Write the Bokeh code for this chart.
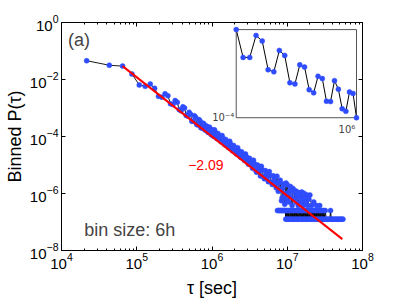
import numpy as np
from bokeh.plotting import figure
from bokeh.models import (Range1d, LogScale, LogAxis, FixedTicker, LogTickFormatter,
                          CustomJSTickFormatter, Label)
from bokeh.embed import file_html
from bokeh.resources import INLINE

# ---------------- data ----------------
# first bins (6 h bins), tau in hours
early_tau_h = [6, 12, 18, 24, 30, 36, 42, 48, 54, 60, 66, 72, 78, 84, 90, 96,
               102, 108, 114, 120, 126, 132, 138]
early_p = [4.57e-2, 3.16e-2, 2.95e-2, 1.55e-2, 6.46e-3, 5.75e-3, 6.92e-3, 4.90e-3,
           2.57e-3, 2.40e-3, 3.16e-3, 2.69e-3, 1.41e-3, 1.32e-3, 1.82e-3, 1.58e-3,
           8.71e-4, 7.94e-4, 1.10e-3, 1.00e-3, 5.50e-4, 5.25e-4, 7.08e-4]

# bins shown in the inset, tau in hours
inset_tau_h = [144, 150, 156, 162, 168, 174, 180, 186, 192, 198, 204, 210, 216,
               222, 228, 234, 240, 246, 252, 258, 264, 270, 276, 282, 288, 294]
inset_p = [6.03e-4, 3.42e-4, 3.42e-4, 5.35e-4, 4.78e-4, 2.66e-4, 2.55e-4, 3.94e-4,
           3.56e-4, 2.04e-4, 1.99e-4, 2.94e-4, 2.81e-4, 1.77e-4, 1.66e-4, 2.33e-4,
           2.22e-4, 1.40e-4, 1.39e-4, 2.13e-4, 1.79e-4, 1.20e-4, 1.14e-4, 1.69e-4,
           1.64e-4, 1.00e-4]

# dense band (tau in seconds)
band_tau = [1.08e6, 1.11e6, 1.14e6, 1.17e6, 1.20e6, 1.24e6, 1.28e6, 1.32e6, 1.36e6,
            1.40e6, 1.44e6, 1.48e6, 1.52e6, 1.57e6, 1.62e6, 1.67e6, 1.72e6, 1.77e6,
            1.82e6, 1.88e6, 1.94e6, 2.00e6, 2.06e6, 2.12e6, 2.19e6, 2.26e6, 2.33e6,
            2.40e6, 2.47e6, 2.55e6, 2.63e6, 2.71e6, 2.79e6, 2.88e6, 2.97e6, 3.06e6,
            3.15e6, 3.25e6, 3.35e6, 3.45e6, 3.56e6, 3.67e6, 3.78e6, 3.90e6, 4.02e6,
            4.14e6, 4.27e6, 4.40e6, 4.53e6, 4.67e6, 4.81e6, 4.96e6, 5.11e6,
            5.27e6, 5.43e6, 5.60e6, 5.77e6, 5.95e6, 6.13e6, 6.32e6, 6.51e6,
            6.71e6, 6.91e6, 7.12e6]
band_p = [1.71e-4, 1.37e-4, 9.57e-5, 8.36e-5, 1.28e-4, 1.01e-4, 8.45e-5, 6.53e-5,
          1.08e-4, 8.59e-5, 5.94e-5, 5.16e-5, 7.92e-5, 6.27e-5, 5.25e-5, 4.04e-5,
          6.75e-5, 5.36e-5, 3.68e-5, 3.15e-5, 4.82e-5, 3.79e-5, 3.18e-5, 2.43e-5,
          4.07e-5, 3.19e-5, 2.17e-5, 1.86e-5, 2.89e-5, 2.26e-5, 1.88e-5, 1.44e-5,
          2.45e-5, 1.91e-5, 1.26e-5, 1.06e-5, 1.72e-5, 1.31e-5, 1.07e-5, 7.74e-6,
          1.47e-5, 1.10e-5, 6.82e-6, 5.61e-6, 1.01e-5, 7.45e-6, 5.89e-6, 4.10e-6,
          8.95e-6, 6.61e-6, 3.94e-6, 3.28e-6, 6.38e-6, 4.68e-6, 3.73e-6,
          2.61e-6, 5.86e-6, 4.29e-6, 2.51e-6, 2.08e-6, 4.16e-6, 3.00e-6,
          2.36e-6, 1.59e-6]

# end of the band, where it spreads out (tau in seconds)
spread_tau = [7.30e6, 7.45e6, 7.60e6, 7.75e6, 7.90e6, 8.06e6, 8.22e6, 8.38e6, 8.55e6,
              8.72e6, 8.90e6, 9.08e6, 9.26e6, 9.44e6, 9.63e6, 9.82e6,
              1.000e7, 1.025e7, 1.050e7, 1.075e7, 1.100e7, 1.130e7, 1.160e7, 1.190e7,
              1.220e7, 1.250e7, 1.280e7, 1.310e7, 1.340e7, 1.370e7, 1.400e7, 1.440e7,
              1.480e7, 1.520e7, 1.560e7, 1.600e7, 1.640e7, 1.680e7, 1.730e7, 1.780e7,
              1.830e7, 1.880e7, 1.940e7, 2.000e7, 2.100e7, 2.250e7, 2.450e7, 2.700e7]
spread_p = [4.03e-6, 2.28e-6, 1.19e-6, 1.39e-6, 2.45e-6, 2.92e-6, 1.34e-6, 5.62e-7,
            7.14e-7, 1.53e-6, 2.14e-6, 7.66e-7, 4.20e-7, 1.00e-6, 2.32e-6, 6.07e-7,
            2.01e-6, 1.01e-6, 5.04e-7, 1.26e-6, 1.76e-6, 7.55e-7, 3.78e-7, 1.51e-6,
            1.13e-6, 6.30e-7, 1.26e-6, 5.04e-7, 8.81e-7, 1.13e-6, 3.78e-7, 7.55e-7,
            1.01e-6, 5.04e-7, 1.13e-6, 6.30e-7, 3.78e-7, 1.01e-6, 7.55e-7, 5.04e-7,
            8.81e-7, 3.78e-7, 6.30e-7, 8.81e-7, 3.78e-7, 5.04e-7, 3.78e-7, 3.78e-7]

# one- and two-count bins of the tail (tau in seconds)
rows_tau = [7.41e6, 7.65e6, 7.90e6, 8.15e6, 8.40e6, 8.65e6, 8.90e6, 9.15e6, 9.40e6,
            9.55e6, 9.74e6, 9.93e6, 1.01e7, 1.03e7, 1.05e7, 1.07e7, 1.10e7, 1.12e7,
            1.14e7, 1.16e7, 1.19e7, 1.21e7, 1.24e7, 1.26e7, 1.29e7, 1.31e7, 1.34e7,
            1.36e7, 1.39e7, 1.42e7, 1.45e7, 1.48e7, 1.51e7, 1.54e7, 1.57e7, 1.60e7,
            1.63e7, 1.66e7, 1.70e7, 1.73e7, 1.77e7, 1.80e7, 1.84e7, 1.87e7, 1.91e7,
            1.95e7, 1.99e7, 2.03e7, 2.07e7, 2.11e7, 2.15e7, 2.19e7, 2.24e7, 2.28e7,
            2.33e7, 2.38e7, 2.42e7, 2.47e7, 2.52e7, 2.57e7, 2.62e7, 2.68e7, 2.73e7,
            2.78e7, 2.84e7, 2.90e7, 2.95e7, 3.01e7, 3.07e7, 3.13e7, 3.20e7,
            3.30e7, 3.42e7, 3.55e7, 3.68e7, 3.76e7, 3.85e7, 4.00e7, 4.15e7, 4.30e7,
            4.46e7, 4.63e7, 4.80e7, 4.98e7, 5.17e7, 5.36e7, 5.50e7]
rows_p = [2.52e-7, 2.52e-7, 2.52e-7, 2.52e-7, 2.52e-7, 2.52e-7, 2.52e-7, 2.52e-7, 2.52e-7,
          1.26e-7, 2.52e-7, 1.26e-7, 2.52e-7, 1.26e-7, 2.52e-7, 1.26e-7, 2.52e-7,
          1.26e-7, 2.52e-7, 1.26e-7, 2.52e-7, 1.26e-7, 2.52e-7, 1.26e-7, 2.52e-7,
          1.26e-7, 2.52e-7, 1.26e-7, 2.52e-7, 1.26e-7, 2.52e-7, 1.26e-7, 2.52e-7,
          1.26e-7, 2.52e-7, 1.26e-7, 2.52e-7, 1.26e-7, 2.52e-7, 1.26e-7, 2.52e-7,
          1.26e-7, 2.52e-7, 1.26e-7, 2.52e-7, 1.26e-7, 2.52e-7, 1.26e-7, 2.52e-7,
          1.26e-7, 2.52e-7, 1.26e-7, 2.52e-7, 1.26e-7, 2.52e-7, 1.26e-7, 2.52e-7,
          1.26e-7, 2.52e-7, 1.26e-7, 2.52e-7, 1.26e-7, 2.52e-7, 1.26e-7, 2.52e-7,
          1.26e-7, 2.52e-7, 1.26e-7, 2.52e-7, 1.26e-7, 2.52e-7,
          1.26e-7, 1.26e-7, 1.26e-7, 1.26e-7, 2.52e-7, 1.26e-7, 1.26e-7, 1.26e-7,
          1.26e-7, 1.26e-7, 1.26e-7, 1.26e-7, 1.26e-7, 1.26e-7, 1.26e-7, 1.26e-7]

# power-law fit (slope -2.09)
fit_tau = [6.48e4, 5.4e7]
fit_p = [2.95e-2, 2.5e-8]
fit_text = "\u22122.09"

x_ticks = [1e4, 1e5, 1e6, 1e7, 1e8]
y_ticks = [1e-8, 1e-6, 1e-4, 1e-2, 1e0]
inset_x_label = "10\u2076"
inset_y_label = "10\u207b\u2074"

# ---------------- derived ----------------
SEC_PER_HOUR = 3600
early_tau = [h * SEC_PER_HOUR for h in early_tau_h]
inset_tau = [h * SEC_PER_HOUR for h in inset_tau_h]
tau_main = early_tau + inset_tau + band_tau + spread_tau
p_main = early_p + inset_p + band_p + spread_p

FONT = "Liberation Sans"
BLUE = "#2f4dff"

p = figure(width=399, height=300, x_axis_type="log", y_axis_type="log",
           x_range=Range1d(1e4, 1e8), y_range=Range1d(1e-8, 1),
           output_backend="svg", toolbar_location=None,
           min_border_left=61, min_border_right=37, min_border_top=22,
           min_border_bottom=45)
p.extra_x_ranges = {"ix": Range1d(1.838e5, 1.0967e6)}
p.extra_y_ranges = {"iy": Range1d(6.67e-6, 6.97e-4)}
p.extra_x_scales = {"ix": LogScale()}
p.extra_y_scales = {"iy": LogScale()}

p.grid.visible = False
p.outline_line_color = "black"
p.outline_line_width = 1
p.background_fill_color = "white"
p.border_fill_color = "white"

x_minor = [m * 10 ** e for e in range(4, 8) for m in range(2, 10)]


def style_axis(ax, minor=True):
    ax.axis_line_color = "black"
    ax.major_tick_line_color = "black"
    ax.minor_tick_line_color = "black" if minor else None
    ax.major_tick_in = 4
    ax.major_tick_out = 0
    ax.minor_tick_in = 2
    ax.minor_tick_out = 0
    ax.major_label_text_font = FONT
    ax.major_label_text_font_size = "15px"
    ax.major_label_text_color = "black"
    ax.axis_label_text_font = FONT
    ax.axis_label_text_font_size = "18px"
    ax.axis_label_text_font_style = "normal"
    ax.axis_label_text_color = "black"


xa = p.xaxis[0]
xa.ticker = FixedTicker(ticks=x_ticks, minor_ticks=x_minor)
xa.formatter = LogTickFormatter()
xa.axis_label = "\u03c4 [sec]"
style_axis(xa)
xa.major_label_standoff = 2
xa.axis_label_standoff = 6

ya = p.yaxis[0]
ya.ticker = FixedTicker(ticks=y_ticks, minor_ticks=[])
ya.formatter = LogTickFormatter()
ya.axis_label = "Binned P(\u03c4)"
style_axis(ya, minor=False)
ya.major_label_standoff = 3
ya.axis_label_standoff = 2

blank = CustomJSTickFormatter(code="return ''")
top = LogAxis(ticker=FixedTicker(ticks=x_ticks, minor_ticks=x_minor), formatter=blank)
style_axis(top)
p.add_layout(top, "above")
right = LogAxis(ticker=FixedTicker(ticks=y_ticks, minor_ticks=[]), formatter=blank)
style_axis(right, minor=False)
p.add_layout(right, "right")

# main series: connecting line below, markers on top
p.line(tau_main, p_main, line_color="black", line_width=0.9)
p.line(rows_tau, rows_p, line_color="black", line_width=1)
p.scatter(tau_main, p_main, size=5, fill_color=BLUE, line_color=BLUE, line_width=0.5)
p.scatter(rows_tau, rows_p, size=5, fill_color=BLUE, line_color=BLUE, line_width=0.5)
# fit
p.line(fit_tau, fit_p, line_color="red", line_width=2)

# inset
p.quad(left=[min(inset_tau)], right=[max(inset_tau)], bottom=[min(inset_p)],
       top=[max(inset_p)], x_range_name="ix", y_range_name="iy",
       fill_color="white", line_color="#555555", line_width=1)
p.line(inset_tau, inset_p, x_range_name="ix", y_range_name="iy",
       line_color="black", line_width=1)
p.scatter(inset_tau, inset_p, x_range_name="ix", y_range_name="iy", size=5,
          fill_color=BLUE, line_color=BLUE, line_width=0.5)
p.add_layout(Label(x=min(inset_tau), y=min(inset_p), x_range_name="ix", y_range_name="iy",
                   text=inset_y_label, x_offset=-2, text_align="right",
                   text_baseline="middle", text_font="DejaVu Sans", text_font_size="10px"))
p.add_layout(Label(x=1e6, y=min(inset_p), x_range_name="ix", y_range_name="iy",
                   text=inset_x_label, y_offset=-12, text_align="center",
                   text_baseline="middle", text_font="DejaVu Sans", text_font_size="10px"))

# annotations
p.add_layout(Label(x=1.22e4, y=0.242, text="(a)", text_align="left",
                   text_baseline="middle", text_font=FONT, text_font_size="18px"))
p.add_layout(Label(x=2.0e4, y=5.2e-8, text="bin size: 6h", text_align="left",
                   text_baseline="middle", text_font=FONT, text_font_size="18px"))
p.add_layout(Label(x=8.3e5, y=1.0e-5, text=fit_text, text_align="center",
                   text_baseline="middle", text_font=FONT, text_font_size="14px",
                   text_color="red"))

open("out.html", "w").write(file_html(p, INLINE))
